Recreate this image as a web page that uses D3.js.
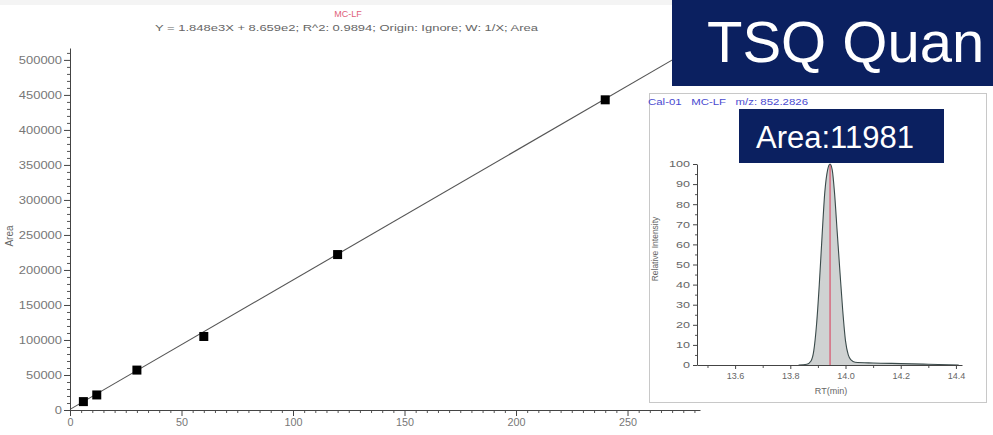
<!DOCTYPE html>
<html>
<head>
<meta charset="utf-8">
<script src="https://cdn.jsdelivr.net/npm/d3@7"></script>
<style>
  body { margin: 0; background: #fff; overflow: hidden; }
  svg { display: block; font-family: "Liberation Sans", Arial, sans-serif; }
</style>
</head>
<body>
<div id="graph"></div>
<script>
"use strict";
// calibration curve (amount vs peak area)
const calAmount = [6, 12, 30, 60, 120, 240];
const calArea = [11981, 21500, 57000, 105000, 222000, 443000];
const fitSlope = 1.848e3;
const fitIntercept = 8.659e2;
const xTicks = [0, 50, 100, 150, 200, 250];
const yTicks = [0, 50000, 100000, 150000, 200000, 250000, 300000, 350000, 400000, 450000, 500000];

// chromatogram of the Cal-01 peak (RT in min, relative intensity %)
const peakRT = [13.83, 13.86, 13.875, 13.885, 13.895, 13.905, 13.915, 13.925, 13.935, 13.944, 13.952, 13.96, 13.97, 13.98, 13.99, 14.0, 14.01, 14.02, 14.035, 14.1, 14.2, 14.3, 14.41];
const peakInt = [0, 0.4, 2, 7, 20, 40, 64, 86, 97, 100, 97, 86, 66, 46, 27, 12, 5, 2.5, 1.4, 1, 0.7, 0.4, 0];
const apexRT = 13.944;
const rtTicks = [13.6, 13.8, 14.0, 14.2, 14.4];
const intTicks = [0, 10, 20, 30, 40, 50, 60, 70, 80, 90, 100];

(function() {
    const svgSize = {
        width : 993,
        height: 435,
    };
    const navy = "#0b2060";

    window.addEventListener("load", init);

    function init() {
        let svg = d3.select("#graph")
                    .append("svg")
                        .attr("width", svgSize.width)
                        .attr("height", svgSize.height);

        svg.append("rect")
            .attr("width", svgSize.width).attr("height", 5)
            .attr("fill", "#f4f4f4");

        makeCalCurve(svg);
        makeInset(svg);
        makeBanners(svg);
    }

    function makeCalCurve(svg) {
        let x = d3.scaleLinear().domain([0, 282.5]).range([70, 700]);
        let y = d3.scaleLinear().domain([0, 517000]).range([410, 48]);

        // minor ticks first
        svg.append("g")
            .attr("transform", "translate(0,410)")
            .call(d3.axisBottom(x)
                .tickValues(d3.range(0, 283, 5).filter(v => v % 50 !== 0))
                .tickSize(3).tickFormat(""))
            .call(g => g.select(".domain").remove())
            .selectAll("line").attr("stroke", "#555");
        svg.append("g")
            .attr("transform", "translate(70,0)")
            .call(d3.axisLeft(y)
                .tickValues(d3.range(0, 517000, 10000).filter(v => v % 50000 !== 0))
                .tickSize(3).tickFormat(""))
            .call(g => g.select(".domain").remove())
            .selectAll("line").attr("stroke", "#555");

        let xAxis = svg.append("g")
            .attr("transform", "translate(0,410)")
            .call(d3.axisBottom(x).tickValues(xTicks).tickSize(6).tickPadding(3).tickSizeOuter(0));
        let yAxis = svg.append("g")
            .attr("transform", "translate(70,0)")
            .call(d3.axisLeft(y).tickValues(yTicks).tickSize(6).tickPadding(2).tickSizeOuter(0)
                .tickFormat(d3.format("d")));

        [xAxis, yAxis].forEach(g => {
            g.selectAll("path, line").attr("stroke", "#444");
            g.selectAll("text").attr("fill", "#777").style("font-size", "10px");
        });
        stretch(yAxis.selectAll("text"), 7.2);
        stretch(xAxis.selectAll("text"), 6);

        // fitted line
        let fit = [0, 282.5].map(v => [v, fitSlope * v + fitIntercept]);
        svg.append("path")
            .datum(fit)
            .attr("d", d3.line().x(d => x(d[0])).y(d => y(d[1])))
            .attr("stroke", "#555").attr("stroke-width", 1.1).attr("fill", "none");

        svg.selectAll(".cal")
            .data(calAmount)
            .enter()
            .append("rect")
                .attr("class", "cal")
                .attr("x", (d) => x(d) - 4.5)
                .attr("y", (d, i) => y(calArea[i]) - 4.5)
                .attr("width", 9).attr("height", 9)
                .attr("fill", "#000");

        svg.append("text")
            .attr("x", 348).attr("y", 17)
            .attr("text-anchor", "middle")
            .attr("fill", "#e0607a").style("font-size", "9px")
            .text("MC-LF");
        let sub = svg.append("text")
            .attr("x", 155).attr("y", 31)
            .attr("fill", "#666").style("font-size", "9.5px")
            .text("Y = 1.848e3X + 8.659e2; R^2: 0.9894; Origin: Ignore; W: 1/X; Area");
        sub.attr("textLength", 383).attr("lengthAdjust", "spacingAndGlyphs");

        svg.append("text")
            .attr("transform", "translate(13,236) rotate(-90)")
            .attr("text-anchor", "middle")
            .attr("fill", "#666").style("font-size", "10px")
            .text("Area");
    }

    function makeInset(svg) {
        svg.append("rect")
            .attr("x", 649.5).attr("y", 93.5)
            .attr("width", 337).attr("height", 309)
            .attr("fill", "#fff").attr("stroke", "#c8c8c8");

        svg.append("text")
            .attr("x", 648).attr("y", 105)
            .attr("fill", "#4a4ad0").style("font-size", "8.5px")
            .attr("xml:space", "preserve")
            .attr("textLength", 160).attr("lengthAdjust", "spacingAndGlyphs")
            .text("Cal-01   MC-LF   m/z: 852.2826");

        let x = d3.scaleLinear().domain([13.462, 14.422]).range([697, 962]);
        let y = d3.scaleLinear().domain([0, 100]).range([365, 164]);

        svg.append("g")
            .attr("transform", "translate(0,365)")
            .call(d3.axisBottom(x).tickValues([13.5, 13.7, 13.9, 14.1, 14.3]).tickSize(3).tickFormat(""))
            .call(g => g.select(".domain").remove())
            .selectAll("line").attr("stroke", "#555");
        svg.append("g")
            .attr("transform", "translate(697,0)")
            .call(d3.axisLeft(y).tickValues(d3.range(5, 100, 10)).tickSize(2).tickFormat(""))
            .call(g => g.select(".domain").remove())
            .selectAll("line").attr("stroke", "#555");

        // peak
        let pts = peakRT.map((d, i) => [d, peakInt[i]]);
        svg.append("path")
            .datum(pts)
            .attr("d", d3.area().x(d => x(d[0])).y0(y(0)).y1(d => y(d[1])).curve(d3.curveMonotoneX))
            .attr("fill", "#cfd2d2");
        svg.append("line")
            .attr("x1", x(apexRT)).attr("x2", x(apexRT))
            .attr("y1", y(100)).attr("y2", y(0))
            .attr("stroke", "#d9506a").attr("stroke-width", 1.2);
        svg.append("path")
            .datum(pts)
            .attr("d", d3.line().x(d => x(d[0])).y(d => y(d[1])).curve(d3.curveMonotoneX))
            .attr("fill", "none").attr("stroke", "#3a4a4a").attr("stroke-width", 1.1);

        let xAxis = svg.append("g")
            .attr("transform", "translate(0,365)")
            .call(d3.axisBottom(x).tickValues(rtTicks).tickSize(4).tickPadding(4).tickSizeOuter(0)
                .tickFormat(d3.format(".1f")));
        let yAxis = svg.append("g")
            .attr("transform", "translate(697,0)")
            .call(d3.axisLeft(y).tickValues(intTicks).tickSize(4).tickPadding(3).tickSizeOuter(0));
        [xAxis, yAxis].forEach(g => {
            g.selectAll("path, line").attr("stroke", "#444");
            g.selectAll("text").attr("fill", "#666").style("font-size", "9px");
        });
        stretch(yAxis.selectAll("text"), 7);
        stretch(xAxis.selectAll("text"), 4.4);

        svg.append("text")
            .attr("x", 831).attr("y", 394)
            .attr("text-anchor", "middle")
            .attr("fill", "#666").style("font-size", "9px")
            .text("RT(min)");
        svg.append("text")
            .attr("transform", "translate(658,249) rotate(-90)")
            .attr("text-anchor", "middle")
            .attr("fill", "#666").style("font-size", "8.5px")
            .text("Relative Intensity");
    }

    function makeBanners(svg) {
        svg.append("rect")
            .attr("x", 672).attr("y", 0)
            .attr("width", 330).attr("height", 86)
            .attr("fill", navy);
        svg.append("text")
            .attr("x", 707).attr("y", 62)
            .attr("fill", "#fff").style("font-size", "58px")
            .text("TSQ Quan");

        svg.append("rect")
            .attr("x", 739).attr("y", 109)
            .attr("width", 205).attr("height", 54)
            .attr("fill", navy);
        svg.append("text")
            .attr("x", 756).attr("y", 148)
            .attr("fill", "#fff").style("font-size", "31px")
            .text("Area:" + calArea[0]);
    }

    /* --- HELPER FUNCTIONS --- */

    /**
     * Stretches tick labels horizontally to a fixed width per character.
     */
    function stretch(sel, perChar) {
        sel.attr("textLength", function() { return this.textContent.length * perChar; })
           .attr("lengthAdjust", "spacingAndGlyphs");
    }

})();
</script>
</body>
</html>
